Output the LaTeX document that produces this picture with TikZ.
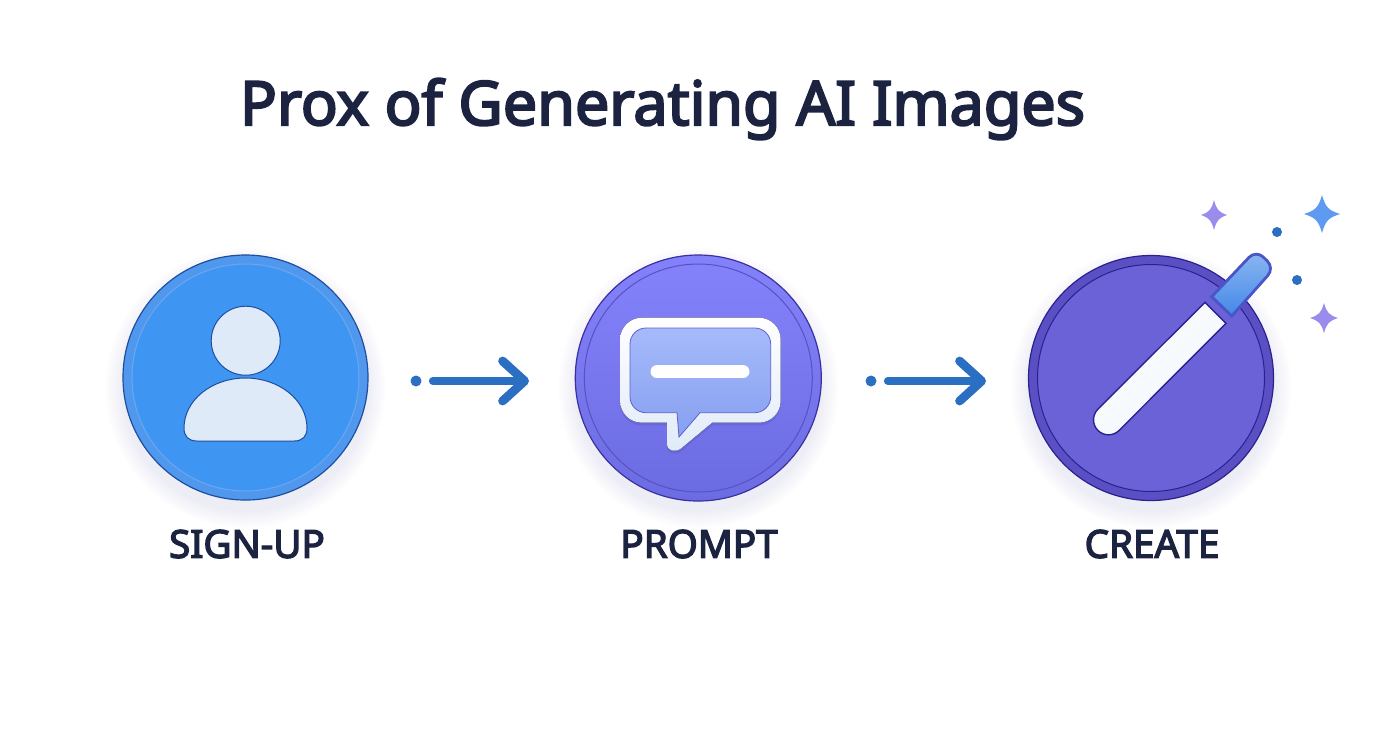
\documentclass[tikz,border=0pt]{standalone}
\usepackage{fontspec}
\setmainfont{Liberation Sans}
\newfontfamily\headfont[FakeBold=3.5]{Noto Sans}
\usetikzlibrary{arrows.meta}
\definecolor{inknavy}{HTML}{1B2340}
\definecolor{flowblue}{HTML}{2A6FC2}
\definecolor{signfill}{HTML}{3F96F2}
\definecolor{signring}{HTML}{5098EE}
\definecolor{signedge}{HTML}{1F4E9E}
\definecolor{promptedge}{HTML}{3A30A0}
\definecolor{promptfill}{HTML}{8482FA}
\definecolor{promptlow}{HTML}{6C6CE2}
\definecolor{bubbletop}{HTML}{A6BAFA}
\definecolor{bubblelow}{HTML}{86A0F0}
\definecolor{capblue}{HTML}{4288E8}
\definecolor{caprim}{HTML}{4A55C8}
\definecolor{createfill}{HTML}{6B62D8}
\definecolor{createring}{HTML}{5A50C4}
\definecolor{createedge}{HTML}{2B2090}
\definecolor{iconwhite}{HTML}{DFEAF8}
\definecolor{sparkviolet}{HTML}{9A8CEC}
\definecolor{sparkblue}{HTML}{5E9BF0}
\tikzset{
	stepdisc/.style={circle,inner sep=0pt,minimum size=122.5pt,line width=0.6pt},
	stepring/.style={circle,inner sep=0pt,minimum size=113.5pt,line width=0.5pt},
	steplabel/.style={font=\headfont\fontsize{19.3}{20}\selectfont,text=inknavy},
	flowdot/.style={circle,fill=flowblue,inner sep=0pt,minimum size=5.5pt},
	flowline/.style={draw=flowblue,line width=4pt,line cap=round,shorten <=5.5pt,
		-{Straight Barb[length=11pt,width=20pt,round,line width=4.4pt]}},
	sparkdot/.style={circle,fill=flowblue,inner sep=0pt,minimum size=5pt},
	iconshape/.style={draw=signedge,fill=iconwhite,line width=0.5pt}
}
\newcommand{\sparkle}[5]{%
	\fill[#5] (#1,#2-#4) .. controls (#1+0.2*#3,#2-0.35*#4) and (#1+0.35*#3,#2-0.2*#4) .. (#1+#3,#2)
		.. controls (#1+0.35*#3,#2+0.2*#4) and (#1+0.2*#3,#2+0.35*#4) .. (#1,#2+#4)
		.. controls (#1-0.2*#3,#2+0.35*#4) and (#1-0.35*#3,#2+0.2*#4) .. (#1-#3,#2)
		.. controls (#1-0.35*#3,#2-0.2*#4) and (#1-0.2*#3,#2-0.35*#4) .. (#1,#2-#4) -- cycle;}
\newcommand{\bubbleoutline}{(620,317.7) -- (780.7,317.7) -- (780.7,422.7)
	[sharp corners] -- (712,422.7) -- (681,448.5) .. controls (675,453) and (667,451) .. (667,444) -- (667,422.7)
	[rounded corners=11pt] -- (620,422.7) -- cycle}
\begin{document}
\begin{tikzpicture}[x=0.5pt,y=-0.5pt]
	\useasboundingbox[fill=white] (0,0) rectangle (1392,752);
	%% soft shadows
	\foreach \cx in {245.5,698.3,1151}
		\foreach \rr in {124,126,128,130,132,134,136,138,140}
			\fill[promptedge,opacity=0.007] (\cx,388) circle (\rr);
	%% discs
	\node[stepdisc,draw=signedge,fill=signring] (signdisc) at (245.5,377.5) {};
	\node[stepring,draw=signring!85!white,fill=signfill] (signinner) at (245.5,377.5) {};
	\node[stepdisc,draw=promptedge,top color=promptfill,bottom color=promptlow,minimum size=123pt] (promptdisc) at (698.3,378) {};
	\node[stepring,draw=promptedge!60!promptfill,top color=promptfill,bottom color=promptlow,minimum size=114pt] (promptinner) at (698.3,378) {};
	\node[stepdisc,draw=createedge,fill=createring] (createdisc) at (1151,378) {};
	\node[stepring,draw=createedge,fill=createfill] (createinner) at (1151,378) {};
	%% person icon
	\node[circle,inner sep=0pt,minimum size=34.5pt,iconshape] (head) at (245.7,340.7) {};
	\draw[iconshape] (197,441) .. controls (188,441) and (184,436) .. (184,428)
		.. controls (184,400) and (212,378) .. (245.5,378)
		.. controls (279,378) and (307,400) .. (307,428)
		.. controls (307,436) and (303,441) .. (294,441) -- cycle;
	%% speech bubble
	\fill[promptedge,opacity=0.16,yshift=-1.5pt,rounded corners=11pt] \bubbleoutline;
	\fill[top color=white,bottom color=iconwhite,rounded corners=11pt] \bubbleoutline;
	\draw[draw=promptedge!45!promptfill,top color=bubbletop,bottom color=bubblelow,line width=0.4pt,rounded corners=8pt] (630,328) -- (770.7,328) -- (770.7,412.7)
		[sharp corners] -- (700,412.7) -- (679,437) -- (677,412.7)
		[rounded corners=8pt] -- (630,412.7) -- cycle;
	\draw[white,line width=6.5pt,line cap=round] (657,371.7) -- (743,371.7);
	%% flow arrows
	\node[flowdot] (dota) at (416,381) {};
	\coordinate (tipa) at (529,381);
	\draw[flowline] (dota) -- (tipa);
	\node[flowdot] (dotb) at (871,381) {};
	\coordinate (tipb) at (986,381);
	\draw[flowline] (dotb) -- (tipb);
	%% wand
	\draw[draw=createedge,top color=white,bottom color=white!50!iconwhite,shading angle=45,line width=0.7pt] (1205,302.3) -- (1097.9,409.2) arc (225:45:15) -- (1226,323.3) -- cycle;
	\draw[draw=caprim,top color=capblue!60!white,bottom color=capblue,line width=1.4pt,rounded corners=5pt] (1211.7,296.7) [sharp corners] -- (1231.7,316)
		[rounded corners=5pt] -- (1274.5,268) -- (1256,250) [sharp corners] -- cycle;
	%% sparkles
	\sparkle{1214}{215}{13}{15}{sparkviolet}
	\sparkle{1322}{214}{18}{19}{sparkblue}
	\sparkle{1324}{318}{14}{15}{sparkviolet}
	\node[sparkdot] (sparka) at (1277,232) {};
	\node[sparkdot] (sparkb) at (1297,280) {};
	%% texts
	\node[font=\headfont\fontsize{30.5}{36}\selectfont,text=inknavy] (title) at (662.5,109) {Prox of Generating AI Images};
	\node[steplabel] (signlabel) at (247,544) {SIGN-UP};
	\node[steplabel] (promptlabel) at (699,544) {PROMPT};
	\node[steplabel] (createlabel) at (1152,544) {CREATE};
\end{tikzpicture}
\end{document}
